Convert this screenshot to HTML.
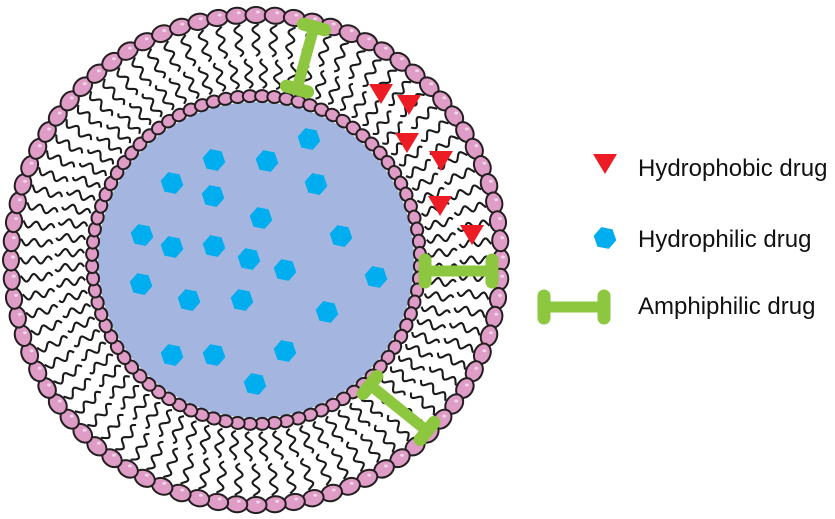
<!DOCTYPE html>
<html><head><meta charset="utf-8"><style>
html,body{margin:0;padding:0;background:#fff;width:835px;height:519px;overflow:hidden}
text{font-family:"Liberation Sans",Arial,sans-serif;font-size:24px;fill:#111}
</style></head><body>
<svg id="s" width="835" height="519" viewBox="0 0 835 519" xmlns="http://www.w3.org/2000/svg">
<circle cx="256" cy="260" r="158" fill="#a4b6df"/>
<g id="tails" fill="none" stroke="#1a1a1a" stroke-width="2.1"></g>
<g id="heads" fill="#de9cc6" stroke="#231f20" stroke-width="2"></g>
<g id="drugs"></g>
<text x="638" y="176">Hydrophobic drug</text>
<text x="638" y="247">Hydrophilic drug</text>
<text x="638" y="314">Amphiphilic drug</text>
</svg>
<script>
var NS="http://www.w3.org/2000/svg",cx=256,cy=260;
function el(p,t,a){var e=document.createElementNS(NS,t);for(var k in a)e.setAttribute(k,a[k]);p.appendChild(e);return e;}
var T=document.getElementById('tails'),H=document.getElementById('heads'),D=document.getElementById('drugs');
function wave(a,r1,r2){var d="",n=40;for(var i=0;i<=n;i++){var r=r1+(r2-r1)*i/n;var w=3.5*Math.sin((r-r1)/15*2*Math.PI);var x=cx+r*Math.cos(a)-w*Math.sin(a),y=cy+r*Math.sin(a)+w*Math.cos(a);d+=(i?"L":"M")+x.toFixed(1)+" "+y.toFixed(1);}el(T,'path',{d:d});}
var N=80;
for(var i=0;i<N;i++){var a=i/N*2*Math.PI;
wave(a,204,236);
wave(a+Math.PI/N,172,201);}
for(var i=0;i<N;i++){var a=i/N*2*Math.PI,deg=a*180/Math.PI;
var x=cx+245*Math.cos(a),y=cy+245*Math.sin(a);
el(H,'ellipse',{cx:x,cy:y,rx:8,ry:10.5,transform:"rotate("+deg+" "+x+" "+y+")"});
el(H,'ellipse',{cx:x+2,cy:y-3,rx:2,ry:1.5,fill:"#fff",stroke:"none",opacity:.6});}
for(var i=0;i<84;i++){var a=(i+0.5)/84*2*Math.PI,deg=a*180/Math.PI;
var x=cx+164*Math.cos(a),y=cy+164*Math.sin(a);
el(H,'ellipse',{cx:x,cy:y,rx:6,ry:7,transform:"rotate("+deg+" "+x+" "+y+")"});}
var hex=[[309,139],[214,160],[267,161],[172,183],[316,184],[213,196],[261,218],[142,235],[172,247],[214,246],[341,236],[249,259],[285,270],[376,277],[141,284],[189,300],[242,300],[327,312],[172,355],[214,355],[285,351],[255,384],[605,238]];
hex.forEach(function(h){var p="";for(var k=0;k<6;k++){var a=k*Math.PI/3+0.2;p+=(h[0]+11.5*Math.cos(a)).toFixed(1)+","+(h[1]+11.5*Math.sin(a)).toFixed(1)+" ";}el(D,'polygon',{points:p,fill:"#00aeef"});});
var tri=[[381,93],[409,104],[407,142],[441,160],[440,205],[472,234],[605,163]];
tri.forEach(function(t){el(D,'polygon',{points:(t[0]-12)+","+(t[1]-9)+" "+(t[0]+12)+","+(t[1]-9)+" "+t[0]+","+(t[1]+11),fill:"#ed1c24"});});
function bar(x1,y1,x2,y2){var dx=x2-x1,dy=y2-y1,L=Math.hypot(dx,dy),ux=dx/L,uy=dy/L,px=-uy,py=ux;
el(D,'line',{x1:x1,y1:y1,x2:x2,y2:y2,stroke:"#8dc63f","stroke-width":11});
[[x1,y1],[x2,y2]].forEach(function(c){el(D,'line',{x1:c[0]-px*11,y1:c[1]-py*11,x2:c[0]+px*11,y2:c[1]+py*11,stroke:"#8dc63f","stroke-width":13,"stroke-linecap":"round"});});}
bar(314,27,297,89);bar(425,271,492,271);bar(370,385,427,431);bar(544,307,604,307);
</script>
</body></html>
